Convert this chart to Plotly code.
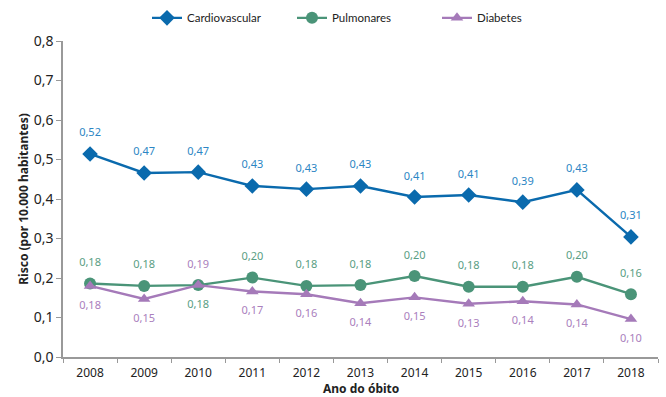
import plotly.graph_objects as go

years = ["2008", "2009", "2010", "2011", "2012", "2013", "2014", "2015", "2016", "2017", "2018"]
cardio = [0.514, 0.466, 0.468, 0.433, 0.425, 0.433, 0.405, 0.410, 0.392, 0.423, 0.304]
cardio_lbl = ["0,52", "0,47", "0,47", "0,43", "0,43", "0,43", "0,41", "0,41", "0,39", "0,43", "0,31"]
pulm = [0.186, 0.180, 0.182, 0.201, 0.180, 0.182, 0.205, 0.178, 0.178, 0.203, 0.159]
pulm_lbl = ["0,18", "0,18", "0,18", "0,20", "0,18", "0,18", "0,20", "0,18", "0,18", "0,20", "0,16"]
diab = [0.180, 0.147, 0.182, 0.166, 0.159, 0.136, 0.151, 0.135, 0.141, 0.133, 0.096]
diab_lbl = ["0,18", "0,15", "0,19", "0,17", "0,16", "0,14", "0,15", "0,13", "0,14", "0,14", "0,10"]
y_ticks = [0, 0.1, 0.2, 0.3, 0.4, 0.5, 0.6, 0.7, 0.8]
y_tick_text = ["0,0", "0,1", "0,2", "0,3", "0,4", "0,5", "0,6", "0,7", "0,8"]
x_title = "Ano do óbito"
y_title = "Risco (por 10.000 habitantes)"

FONT = "Noto Sans"
c_blue, c_blue_t = "#0a6aad", "#2c86c4"
c_green, c_green_t = "#4a9478", "#5a9e84"
c_purple, c_purple_t = "#a57ab9", "#aa80bd"

pulm_pos = ["top center"] * len(years)
diab_pos = ["bottom center"] * len(years)
pulm_pos[2] = "bottom center"
diab_pos[2] = "top center"

fig = go.Figure()
series = [
    ("Cardiovascular", cardio, cardio_lbl, ["top center"] * len(years), c_blue, c_blue_t, "diamond", 12),
    ("Pulmonares", pulm, pulm_lbl, pulm_pos, c_green, c_green_t, "circle", 12),
    ("Diabetes", diab, diab_lbl, diab_pos, c_purple, c_purple_t, "triangle-up", 11),
]
for name, vals, lbl, pos, col, tcol, sym, sz in series:
    fig.add_trace(go.Scatter(
        x=years, y=vals, name=name, mode="lines+markers",
        line=dict(color=col, width=2.4), marker=dict(symbol=sym, size=sz, color=col)))
for name, vals, lbl, pos, col, tcol, sym, sz in series:
    # invisible larger markers push the labels away from the points
    fig.add_trace(go.Scatter(
        x=years, y=vals, mode="markers+text", showlegend=False, hoverinfo="skip",
        marker=dict(size=22, color="rgba(0,0,0,0)"),
        text=lbl, textposition=pos, textfont=dict(color=tcol, size=11, family=FONT)))

fig.update_layout(
    width=666, height=397,
    margin=dict(l=63, r=8, t=41, b=40),
    paper_bgcolor="white", plot_bgcolor="white",
    font=dict(family=FONT, color="#222", size=12),
    showlegend=True,
    legend=dict(orientation="h", xref="container", x=147 / 666, xanchor="left",
                yref="container", y=0.955, yanchor="middle",
                font=dict(size=11.5, color="#222", family="Lato"), entrywidth=100, entrywidthmode="pixels",
                itemwidth=30, traceorder="normal"),
    xaxis=dict(type="category", range=[-0.5, 10.5], showline=True, linecolor="#999", linewidth=1.5,
               ticks="outside", tickson="boundaries", ticklen=4, tickcolor="#999",
               showgrid=False, tickfont=dict(size=12), ticklabelstandoff=4, automargin=False),
    yaxis=dict(range=[0, 0.8], tickvals=y_ticks, ticktext=y_tick_text, showline=True, linecolor="#999",
               linewidth=1.5, ticks="outside", ticklen=5, tickcolor="#999", showgrid=False, zeroline=False,
               tickfont=dict(size=14), automargin=False,
               title=dict(text="<b>" + y_title + "</b>", font=dict(size=12), standoff=2)),
    annotations=[dict(text="<b>" + x_title + "</b>", xref="paper", yref="paper", x=0.5, y=-31 / 316,
                      xanchor="center", yanchor="middle", showarrow=False, font=dict(size=12))],
)

fig.write_html("out.html")
